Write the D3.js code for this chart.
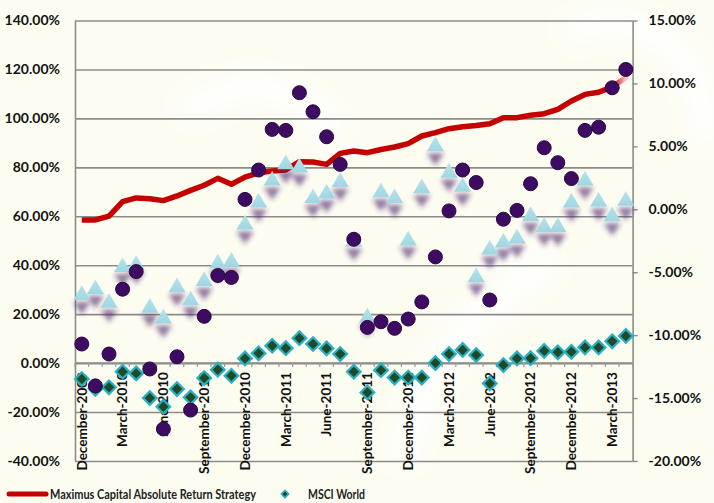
<!DOCTYPE html>
<html>
<head>
<meta charset="utf-8">
<script src="https://cdnjs.cloudflare.com/ajax/libs/d3/7.8.5/d3.min.js"></script>
<style>
  html, body { margin: 0; padding: 0; background: #fcfcf0; }
  svg { display: block; font-family: Lato, "Open Sans", sans-serif; }
</style>
</head>
<body>
<svg id="chart"></svg>
<script>
// categories (monthly)
var months = ["December-2009","January-2010","February-2010","March-2010","April-2010","May-2010","June-2010",
  "July-2010","August-2010","September-2010","October-2010","November-2010","December-2010",
  "January-2011","February-2011","March-2011","April-2011","May-2011","June-2011","July-2011",
  "August-2011","September-2011","October-2011","November-2011","December-2011","January-2012",
  "February-2012","March-2012","April-2012","May-2012","June-2012","July-2012","August-2012",
  "September-2012","October-2012","November-2012","December-2012","January-2013","February-2013",
  "March-2013","April-2013"]

var tickLabels = ["December-2009","March-2010","June-2010","September-2010","December-2010","March-2011",
  "June-2011","September-2011","December-2011","March-2012","June-2012","September-2012",
  "December-2012","March-2013"]

// Maximus Capital Absolute Return Strategy (left axis, %)
var strategy = [58.5,58.5,60.1,66.0,67.5,67.2,66.4,68.3,70.6,72.7,75.5,73.1,76.0,77.8,78.5,78.9,
  82.3,82.2,81.2,85.7,86.7,86.0,87.3,88.3,89.7,92.8,94.2,95.8,96.6,97.1,97.8,100.3,100.3,101.3,
  101.9,103.7,107.1,109.8,110.7,112.9,116.6]

// MSCI World (left axis, %)
var msci = [-6.5,-10.5,-9.9,-3.5,-4.2,-14.3,-17.8,-10.6,-14.0,-6.1,-2.7,-5.2,1.9,4.0,7.1,6.1,10.2,
  7.8,6.0,3.7,-3.5,-12.0,-2.9,-5.9,-5.9,-5.9,0.0,3.7,5.4,3.3,-8.3,-0.8,1.9,2.0,5.0,4.4,4.6,6.4,
  6.4,8.9,11.1]

// purple circle series (left axis, %)
var circles = [7.8,-9.3,3.7,30.2,37.4,-2.4,-26.9,2.6,-19.2,19.1,35.8,35.0,66.9,78.9,95.5,95.1,
  110.5,102.7,92.5,81.2,50.6,14.6,16.9,14.2,18.0,25.0,43.4,62.2,78.9,73.8,25.8,58.8,62.4,73.3,
  88.0,81.9,75.4,95.1,96.4,112.5,120.0]

// light blue triangle series (left axis, %)
var triangles = [28.2,30.6,25.0,39.6,40.5,23.0,18.6,31.4,26.1,33.9,41.1,41.8,57.0,66.0,75.0,81.6,
  80.3,67.8,69.7,74.4,50.0,19.0,70.2,67.8,50.5,71.8,89.0,78.2,72.4,35.5,46.8,49.7,51.3,60.5,
  56.0,56.0,66.0,75.0,66.4,60.4,66.7]

var leftTicks = [-40,-20,0,20,40,60,80,100,120,140]
var rightTicks = [-20,-15,-10,-5,0,5,10,15]

var screen = {width:714,height:503}
var plot = {left:75,right:632.6,top:20.5,bottom:461}

var svg = d3.select("#chart")
    .attr("width",screen.width)
    .attr("height",screen.height)

var defs = svg.append("defs")
defs.append("filter").attr("id","blur")
    .attr("x","-50%").attr("y","-50%").attr("width","200%").attr("height","200%")
    .append("feGaussianBlur").attr("stdDeviation",2.8)
defs.append("filter").attr("id","bigblur")
    .append("feGaussianBlur").attr("stdDeviation",14)
var triGrad = defs.append("linearGradient").attr("id","triGrad")
    .attr("x1",0).attr("y1",0).attr("x2",0).attr("y2",1)
triGrad.append("stop").attr("offset","0%").attr("stop-color","#b6e3ec")
triGrad.append("stop").attr("offset","100%").attr("stop-color","#9fd6e2")
var tailGrad = defs.append("linearGradient").attr("id","tailGrad")
    .attr("gradientUnits","userSpaceOnUse")

// background + faint watermark
svg.append("rect").attr("width",screen.width).attr("height",screen.height).attr("fill","#fcfcf0")
var wm = svg.append("g").attr("filter","url(#bigblur)").attr("fill","none")
    .attr("stroke","#ffffff").attr("stroke-opacity",0.8).attr("stroke-width",40)
wm.append("path").attr("d","M560,40 C640,-10 720,60 700,150")
wm.append("path").attr("d","M400,470 C420,380 470,300 560,260")
wm.append("path").attr("d","M180,120 C230,70 300,80 340,140")

var x = d3.scaleBand().domain(months).range([plot.left,plot.right])
var yL = d3.scaleLinear().domain([-40,140]).range([plot.bottom,plot.top])
var yR = d3.scaleLinear().domain([-20,15]).range([plot.bottom,plot.top])
var cx = function(m){ return x(m) + x.bandwidth()/2 }

// gridlines
svg.append("g")
    .attr("transform","translate("+plot.left+",0)")
    .call(d3.axisLeft(yL).tickValues(leftTicks).tickSize(-(plot.right-plot.left)).tickFormat(""))
    .call(function(g){ g.select(".domain").remove() })
    .selectAll("line").attr("stroke","#8c8c8c").attr("stroke-width",1.6)

// left axis
var leftAxis = svg.append("g")
    .attr("transform","translate("+plot.left+",0)")
    .call(d3.axisLeft(yL).tickValues(leftTicks).tickSize(0).tickPadding(15)
        .tickFormat(function(d){ return d.toFixed(2)+"%" }))
leftAxis.select(".domain").attr("stroke","#8c8c8c").attr("stroke-width",1.6)
leftAxis.selectAll("text").attr("font-size",14).attr("font-weight","bold").attr("fill","#111")
    .attr("font-family","Lato, sans-serif")

// right axis
var rightAxis = svg.append("g")
    .attr("transform","translate("+plot.right+",0)")
    .call(d3.axisRight(yR).tickValues(rightTicks).tickSize(5).tickSizeOuter(0).tickPadding(11)
        .tickFormat(function(d){ return d.toFixed(2)+"%" }))
rightAxis.select(".domain").attr("stroke","#8c8c8c").attr("stroke-width",1.6)
rightAxis.selectAll("line").attr("stroke","#8c8c8c").attr("stroke-width",1.4)
rightAxis.selectAll("text").attr("font-size",14).attr("font-weight","bold").attr("fill","#111")
    .attr("font-family","Lato, sans-serif")

// category axis at 0%
var xg = svg.append("g")
xg.append("line")
    .attr("x1",plot.left).attr("x2",plot.right)
    .attr("y1",yL(0)).attr("y2",yL(0))
    .attr("stroke","#8c8c8c").attr("stroke-width",1.6)
xg.selectAll(".tk")
    .data(months.concat(["end"]))
    .enter()
    .append("line")
    .attr("x1",function(m,i){ return i<months.length ? x(m) : plot.right })
    .attr("x2",function(m,i){ return i<months.length ? x(m) : plot.right })
    .attr("y1",yL(0)).attr("y2",yL(0)+4)
    .attr("stroke","#9a9a9a").attr("stroke-width",1.2)
xg.selectAll(".lbl")
    .data(tickLabels)
    .enter()
    .append("text")
    .attr("transform",function(m){ return "translate("+cx(m)+","+(yL(0)+9)+") rotate(-90)" })
    .attr("text-anchor","end")
    .attr("dy","0.35em")
    .attr("font-size",13.5)
    .attr("font-weight","bold")
    .attr("fill","#111")
    .text(function(m){ return m })

// strategy line
var line = d3.line()
    .x(function(d,i){ return cx(months[i]) })
    .y(function(d){ return yL(d) })
var n = strategy.length
svg.append("path")
    .datum(strategy.slice(0,n-1))
    .attr("d",line)
    .attr("fill","none")
    .attr("stroke","#c40000")
    .attr("stroke-width",5.5)
    .attr("stroke-linejoin","round")
tailGrad.attr("x1",cx(months[n-2])).attr("x2",cx(months[n-1])).attr("y1",0).attr("y2",0)
tailGrad.append("stop").attr("offset","0%").attr("stop-color","#c40000")
tailGrad.append("stop").attr("offset","100%").attr("stop-color","#f6c8c8")
svg.append("line")
    .attr("x1",cx(months[n-2])).attr("y1",yL(strategy[n-2]))
    .attr("x2",cx(months[n-1])).attr("y2",yL(strategy[n-1]))
    .attr("stroke","url(#tailGrad)")
    .attr("stroke-width",5.5)
    .attr("stroke-linecap","round")

// MSCI World diamonds
svg.append("g").selectAll("rect")
    .data(msci)
    .enter()
    .append("rect")
    .attr("x",-4.8).attr("y",-4.8).attr("width",9.6).attr("height",9.6)
    .attr("transform",function(d,i){ return "translate("+cx(months[i])+","+yL(d)+") rotate(45)" })
    .attr("fill","#1f4a2a")
    .attr("stroke","#2bb0c2")
    .attr("stroke-width",2.2)

// triangle shadows + triangles
var tri = d3.symbol().type(d3.symbolTriangle).size(125)
svg.append("g").attr("filter","url(#blur)").selectAll("path")
    .data(triangles)
    .enter()
    .append("path")
    .attr("d",tri)
    .attr("transform",function(d,i){ return "translate("+cx(months[i])+","+(yL(d)+12)+") scale(1,-0.85)" })
    .attr("fill","#4f2370")
    .attr("opacity",0.62)
svg.append("g").selectAll("path")
    .data(triangles)
    .enter()
    .append("path")
    .attr("d",tri)
    .attr("transform",function(d,i){ return "translate("+cx(months[i])+","+(yL(d)+1)+")" })
    .attr("fill","url(#triGrad)")

// purple circles
svg.append("g").selectAll("circle")
    .data(circles)
    .enter()
    .append("circle")
    .attr("cx",function(d,i){ return cx(months[i]) })
    .attr("cy",function(d){ return yL(d) })
    .attr("r",7)
    .attr("fill","#3e0b62")
    .attr("stroke","#2a0744")
    .attr("stroke-width",1)

// legend
var lg = svg.append("g").attr("transform","translate(0,494)")
lg.append("line").attr("x1",9).attr("x2",46).attr("y1",0).attr("y2",0)
    .attr("stroke","#c40000").attr("stroke-width",5).attr("stroke-linecap","round")
lg.append("text").attr("x",50).attr("y",0).attr("dy","0.36em")
    .attr("font-size",12.5).attr("font-weight","bold").attr("fill","#222")
    .attr("textLength",206).attr("lengthAdjust","spacingAndGlyphs")
    .text("Maximus Capital Absolute Return Strategy")
lg.append("rect").attr("x",-2.6).attr("y",-2.6).attr("width",5.2).attr("height",5.2)
    .attr("transform","translate(285,0) rotate(45)")
    .attr("fill","#1f4a2a").attr("stroke","#2bb0c2").attr("stroke-width",1.6)
lg.append("text").attr("x",308).attr("y",0).attr("dy","0.36em")
    .attr("font-size",12.5).attr("font-weight","bold").attr("fill","#222")
    .attr("textLength",57).attr("lengthAdjust","spacingAndGlyphs")
    .text("MSCI World")
</script>
</body>
</html>
